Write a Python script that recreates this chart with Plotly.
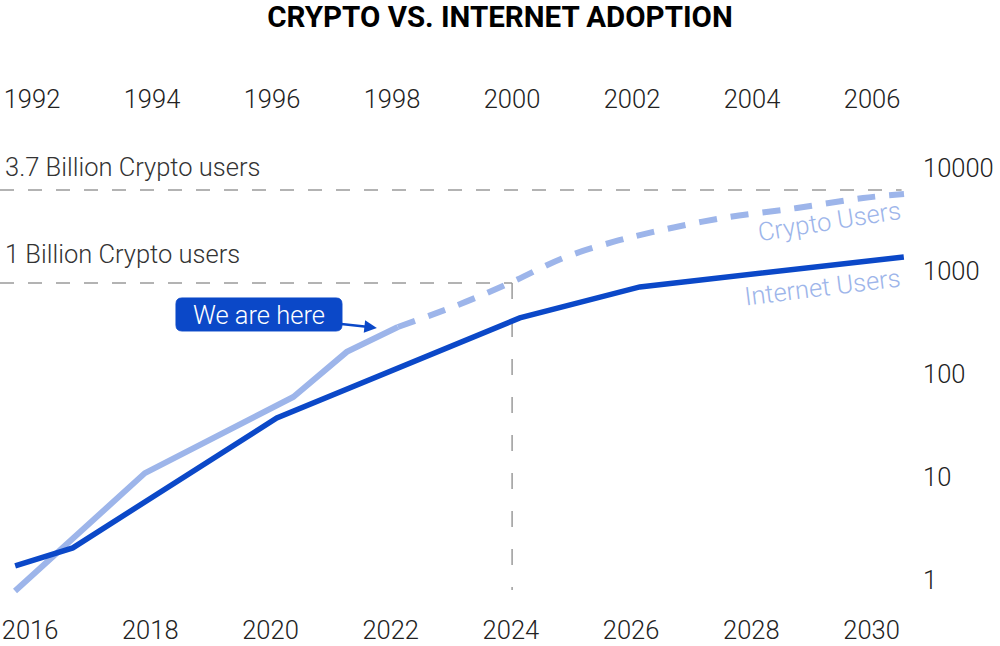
import numpy as np
import plotly.graph_objects as go

# ---- data (values in millions of users) ----
crypto_years_actual = [2015.75, 2017.91, 2020.38, 2021.27, 2022.12]
crypto_users_actual = [0.78, 10.9, 59.8, 164, 286]

crypto_years_proj = [2022.12, 2023.12, 2024.02, 2024.87, 2025.70, 2026.37, 2027.53, 2028.76, 2029.86, 2030.54]
crypto_users_proj = [286, 468, 782, 1337, 1913, 2393, 3273, 4090, 5113, 5593]

internet_years = [1991.72, 1992.68, 1996.08, 2000.13, 2002.13, 2006.53]
internet_users = [1.37, 2.05, 37.4, 350, 700, 1368]

bottom_ticks = [2016, 2018, 2020, 2022, 2024, 2026, 2028, 2030]
top_ticks = [1992, 1994, 1996, 1998, 2000, 2002, 2004, 2006]
y_ticks = [1, 10, 100, 1000, 10000]

ref_high = 6110      # "3.7 Billion Crypto users" reference line
ref_low = 764        # "1 Billion Crypto users" reference line
now_year = 2024.02
here_year, here_value = 2021.77, 280

DARK = "#0B48C8"
LIGHT = "#9DB5EA"
GRAY = "#9a9a9a"
FONT = "Roboto"
FS = 25.5

fig = go.Figure()

fig.add_trace(go.Scatter(
    x=crypto_years_actual, y=crypto_users_actual, mode="lines",
    line=dict(color=LIGHT, width=6), xaxis="x", yaxis="y", showlegend=False,
    hoverinfo="skip"))
fig.add_trace(go.Scatter(
    x=crypto_years_proj, y=crypto_users_proj, mode="lines",
    line=dict(color=LIGHT, width=6, dash="18px,14px", shape="spline"),
    xaxis="x", yaxis="y", showlegend=False, hoverinfo="skip"))
fig.add_trace(go.Scatter(
    x=internet_years, y=internet_users, mode="lines",
    line=dict(color=DARK, width=5.5), xaxis="x2", yaxis="y", showlegend=False,
    hoverinfo="skip"))

x_range = [2015.5, 2030.64]
x2_range = [1991.467, 2006.633]

# reference lines
fig.add_shape(type="line", xref="x", yref="y", x0=x_range[0], x1=2030.5,
              y0=ref_high, y1=ref_high, layer="below",
              line=dict(color=GRAY, width=1.5, dash="14px,14px"))
fig.add_shape(type="line", xref="x", yref="y", x0=x_range[0], x1=now_year,
              y0=ref_low, y1=ref_low, layer="below",
              line=dict(color=GRAY, width=1.5, dash="14px,14px"))
fig.add_shape(type="line", xref="x", yref="y", x0=now_year, x1=now_year,
              y0=ref_low, y1=0.8, layer="below",
              line=dict(color=GRAY, width=1.5, dash="16px,22px"))

# rounded callout box (paper coordinates)
bx0, bx1, by0, by1 = 0.1934, 0.3758, 0.5957, 0.6674
rx, ry = 0.0066, 0.013
box_path = (f"M {bx0+rx},{by0} L {bx1-rx},{by0} Q {bx1},{by0} {bx1},{by0+ry} "
            f"L {bx1},{by1-ry} Q {bx1},{by1} {bx1-rx},{by1} "
            f"L {bx0+rx},{by1} Q {bx0},{by1} {bx0},{by1-ry} "
            f"L {bx0},{by0+ry} Q {bx0},{by0} {bx0+rx},{by0} Z")
fig.add_shape(type="path", xref="paper", yref="paper", path=box_path,
              fillcolor=DARK, line=dict(color=DARK, width=1), layer="above")

ann_font = dict(family=FONT, size=FS, color="#333333", weight=300)
fig.add_annotation(xref="paper", yref="y", x=0.003, y=np.log10(ref_high) + 0.22,
                   text="3.7 Billion Crypto users", showarrow=False,
                   xanchor="left", yanchor="middle", font=ann_font)
fig.add_annotation(xref="paper", yref="y", x=0.003, y=np.log10(ref_low) + 0.28,
                   text="1 Billion Crypto users", showarrow=False,
                   xanchor="left", yanchor="middle", font=ann_font)

fig.add_annotation(xref="x", yref="y", x=2029.30, y=3.49, text="Crypto Users",
                   showarrow=False, textangle=-9,
                   font=dict(family=FONT, size=FS, color=LIGHT, weight=300))
fig.add_annotation(xref="x", yref="y", x=2029.18, y=2.845, text="Internet Users",
                   showarrow=False, textangle=-7,
                   font=dict(family=FONT, size=FS, color=LIGHT, weight=300))

fig.add_annotation(xref="x", yref="y", x=here_year, y=np.log10(here_value),
                   text="We are here", showarrow=True, ax=-118, ay=-13,
                   arrowhead=2, arrowsize=1, arrowwidth=2.5, arrowcolor=DARK,
                   standoff=0, bgcolor="rgba(0,0,0,0)", borderpad=3,
                   width=158, height=27,
                   font=dict(family=FONT, size=FS, color="white", weight=300))

tick_font = dict(family=FONT, size=FS, color="#222222", weight=300)

fig.update_layout(
    width=1000, height=646,
    margin=dict(l=0, r=90, t=145, b=41),
    paper_bgcolor="white", plot_bgcolor="white",
    title=dict(text="<b>CRYPTO VS. INTERNET ADOPTION</b>", x=0.5, xref="container",
               xanchor="center", y=0.974, yanchor="middle",
               font=dict(family=FONT, size=29.5, color="#000000")),
    xaxis=dict(range=x_range, tickvals=bottom_ticks, showgrid=False, zeroline=False,
               showline=False, ticks="", tickfont=tick_font, side="bottom",
               ticklabelstandoff=7, ticklabeloverflow="allow"),
    xaxis2=dict(range=x2_range, tickvals=top_ticks, overlaying="x", side="top",
                showgrid=False, zeroline=False, showline=False, ticks="",
                tickfont=tick_font, ticklabelstandoff=31, ticklabeloverflow="allow"),
    yaxis=dict(type="log", range=[-0.243, 4.223], tickvals=y_ticks,
               ticktext=[str(v) for v in y_ticks], side="right",
               showgrid=False, zeroline=False, showline=False, ticks="",
               tickfont=tick_font, ticklabelstandoff=12, ticklabeloverflow="allow"),
)

fig.write_html("out.html", config={"displayModeBar": False},
               post_script="document.body.style.margin='0';")
